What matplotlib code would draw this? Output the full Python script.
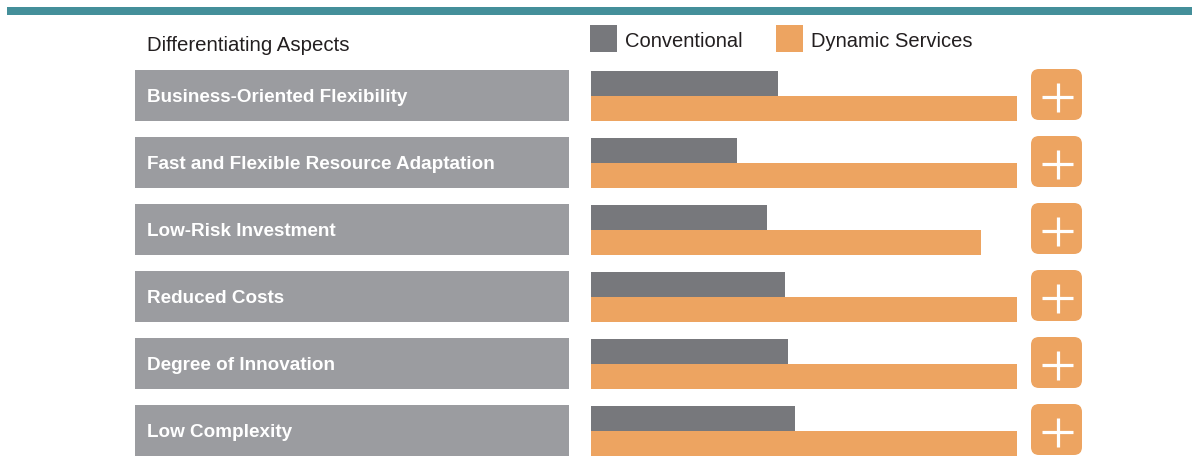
import matplotlib
matplotlib.use("Agg")
import matplotlib.pyplot as plt
from matplotlib.patches import Rectangle, FancyBboxPatch
from matplotlib import font_manager

# ---------------- data ----------------
categories = [
    "Business-Oriented Flexibility",
    "Fast and Flexible Resource Adaptation",
    "Low-Risk Investment",
    "Reduced Costs",
    "Degree of Innovation",
    "Low Complexity",
]
conventional = [43.9, 34.3, 41.3, 45.5, 46.2, 47.9]
dynamic_services = [100, 100, 91.5, 100, 100, 100]
series_names = ["Conventional", "Dynamic Services"]
header_text = "Differentiating Aspects"

# ---------------- style ----------------
TEAL = "#448f9a"
LABEL_GRAY = "#9b9ca0"
BAR_GRAY = "#77787c"
ORANGE = "#eda461"
TEXT_DARK = "#231f20"

avail = {f.name for f in font_manager.fontManager.ttflist}
FONT = "Liberation Sans" if "Liberation Sans" in avail else "DejaVu Sans"
plt.rcParams["font.family"] = [FONT, "DejaVu Sans"]

W, H = 1201, 459
fig = plt.figure(figsize=(W / 100, H / 100), dpi=100)
fig.patch.set_facecolor("white")


def px_axes(x0, y0, x1, y1, **kw):
    return fig.add_axes([x0 / W, 1 - y1 / H, (x1 - x0) / W, (y1 - y0) / H], **kw)


# overlay axes in pixel units for decorations
deco = px_axes(0, 0, W, H)
deco.set_xlim(0, W)
deco.set_ylim(H, 0)
deco.axis("off")

# top teal rule
deco.add_patch(Rectangle((7, 7), 1185, 8, facecolor=TEAL, edgecolor="none"))

# header
deco.text(147, 51, header_text, fontsize=14.7, color=TEXT_DARK, va="baseline", ha="left")

# legend
leg_x = [590, 776]
leg_colors = [BAR_GRAY, ORANGE]
for lx, col, name in zip(leg_x, leg_colors, series_names):
    deco.add_patch(Rectangle((lx, 25), 27, 27, facecolor=col, edgecolor="none"))
    deco.text(lx + 35, 47, name, fontsize=14.5, color=TEXT_DARK, va="baseline", ha="left")

PITCH = 67
ROW_TOP = 70
BOX_H = 50.5
for i, cat in enumerate(categories):
    top = ROW_TOP + PITCH * i
    deco.add_patch(Rectangle((135, top), 434, BOX_H, facecolor=LABEL_GRAY, edgecolor="none"))
    deco.text(147, top + 32, cat, fontsize=13.6, fontweight="bold", color="white",
              va="baseline", ha="left")
    # plus icon
    deco.add_patch(FancyBboxPatch((1031, top - 1), 51, 51,
                                  boxstyle="round,pad=0,rounding_size=8",
                                  facecolor=ORANGE, edgecolor="none"))
    cx, cy = 1057.5, top + 27
    lw = 3.2 * 72 / 100
    deco.plot([cx - 15.5, cx + 15.5], [cy, cy], color="white", lw=lw, solid_capstyle="butt")
    deco.plot([cx, cx], [cy - 14.5, cy + 14.5], color="white", lw=lw, solid_capstyle="butt")

# bar axes (data)
bar_top, bar_bot = 71, 456
ax = px_axes(591, bar_top, 1017, bar_bot)
ax.set_xlim(0, 100)
n_rows = (bar_bot - bar_top) / PITCH
ax.set_ylim(n_rows, 0)
ax.axis("off")
ax.patch.set_alpha(0)
bh = 25 / PITCH
rows = list(range(len(categories)))
ax.barh(rows, conventional, height=bh, align="edge", color=BAR_GRAY, linewidth=0)
ax.barh([r + bh for r in rows], dynamic_services, height=bh, align="edge", color=ORANGE, linewidth=0)

fig.savefig("out.png", dpi=100, facecolor="white")
